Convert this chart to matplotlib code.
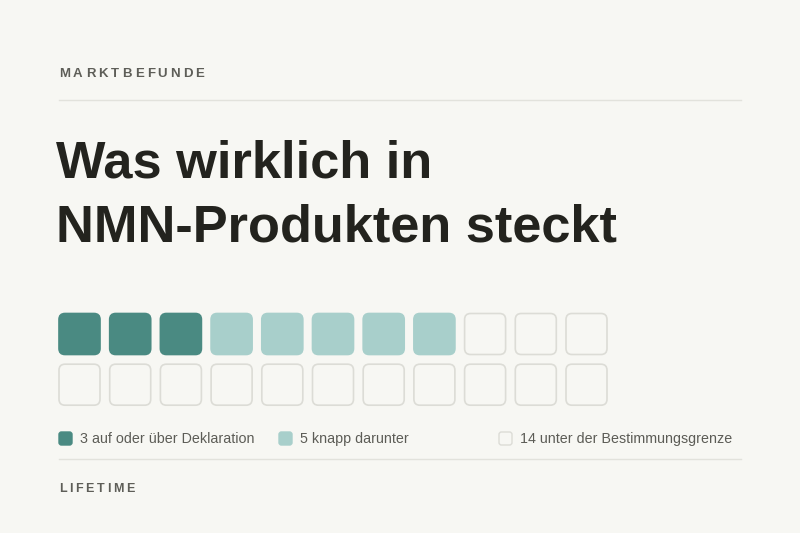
import matplotlib.pyplot as plt
from matplotlib.patches import FancyBboxPatch
from matplotlib.textpath import TextPath
from matplotlib.font_manager import FontProperties

plt.rcParams['font.family'] = ['Liberation Sans', 'DejaVu Sans']

# data
kicker = "MARKTBEFUNDE"
title_lines = ["Was wirklich in", "NMN-Produkten steckt"]
source = "LIFETIME"
counts = [3, 5, 14]
labels = ["3 auf oder über Deklaration", "5 knapp darunter", "14 unter der Bestimmungsgrenze"]
n_cols = 11

bg = "#f7f7f3"
fills = ["#4a8a82", "#a8cfcb", bg]
edges = ["#4a8a82", "#a8cfcb", "#dcdcd6"]

fig = plt.figure(figsize=(8, 5.33), dpi=100, facecolor=bg)
ax = fig.add_axes([0, 0, 1, 1])
ax.set_xlim(0, 800)
ax.set_ylim(533, 0)
ax.axis("off")
ax.set_facecolor(bg)


def spaced_text(x, y, s, size, spacing, **kw):
    # draw letters one by one to mimic letter-spacing
    fp = FontProperties(family="Liberation Sans", weight="bold", size=size)
    px = 100 / 72
    bar = TextPath((0, 0), "|", prop=fp).get_extents().width
    for ch in s:
        ax.text(x, y, ch, fontproperties=fp, va="baseline", ha="left", **kw)
        adv = TextPath((0, 0), ch + "|", prop=fp).get_extents().width - bar
        x += adv * px + spacing


spaced_text(59, 77, kicker, 9.5, 2.8, color="#5e5e58")
ax.plot([59, 741], [99.5, 99.5], color="#e2e2dc", lw=1)

for i, line in enumerate(title_lines):
    ax.text(56, 177 + i * 65, line, fontsize=37.7, fontweight="bold",
            color="#23231e", va="baseline", ha="left")

# waffle
cats = []
for k, c in enumerate(counts):
    cats += [k] * c
size, pitch = 41, 50.7
for idx, k in enumerate(cats):
    r, c = divmod(idx, n_cols)
    x0 = 59 + c * pitch
    y0 = 313.5 + r * pitch
    ax.add_patch(FancyBboxPatch((x0, y0), size, size,
                                boxstyle="round,pad=0,rounding_size=6",
                                fc=fills[k], ec=edges[k], lw=1.2))

# legend
leg_x = [59, 279, 499]
for k, lab in enumerate(labels):
    ax.add_patch(FancyBboxPatch((leg_x[k], 432), 13, 13,
                                boxstyle="round,pad=0,rounding_size=2.5",
                                fc=fills[k], ec=edges[k], lw=1))
    ax.text(leg_x[k] + 21, 439, lab, fontsize=10.25, color="#5c5c56",
            va="center", ha="left")

ax.plot([59, 741], [458.5, 458.5], color="#e2e2dc", lw=1)
spaced_text(59, 492, source, 9, 2.5, color="#5e5e58")

fig.savefig("out.png", dpi=100, facecolor=bg)
